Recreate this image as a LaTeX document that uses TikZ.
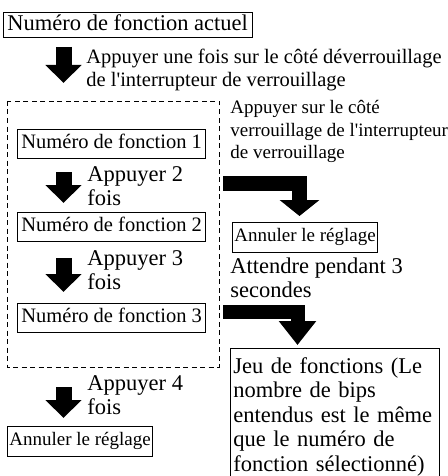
\documentclass[tikz,border=0pt]{standalone}
\usepackage{fontspec}
\setmainfont{Liberation Serif}
\usetikzlibrary{arrows.meta,positioning}
\newcommand\fbig{\fontsize{22.5}{24.5}\selectfont}
\newcommand\fmid{\fontsize{20.5}{23}\selectfont}
\newcommand\fsmall{\fontsize{19}{22.5}\selectfont}
\newcommand\apos{\textquotesingle{}}
\tikzset{
  every picture/.style={line width=0.8pt},
  sbox/.style={draw, anchor=north west, inner xsep=4pt},
  sbig/.style={sbox, font=\fbig, text height=16pt, text depth=5pt, inner ysep=2pt},
  sfunc/.style={sbox, font=\fmid, text height=15pt, text depth=5pt, inner ysep=4.5pt},
  scancel/.style={sbox, font=\fsmall, inner xsep=2pt, text height=14.5pt, text depth=5pt, inner ysep=5pt},
  slabel/.style={anchor=north west, inner sep=0pt, align=left},
  sgroup/.style={dash pattern=on 5pt off 3.5pt},
  sdown/.style={line width=16pt, -{Triangle[width=35pt,length=18pt]}},
  sbent/.style={line width=15pt, line join=miter, -{Triangle[width=39pt,length=16pt]}},
}

\begin{document}
\begin{tikzpicture}[x=1pt,y=-1pt]
  \useasboundingbox (0,0) rectangle (447,476);
  % left column
  \node[sbig] (cur) at (3,12) {Numéro de fonction actuel};
  \draw[sgroup] (7,101) rectangle (219,367);
  \node[sfunc] (f1) at (17,129) {Numéro de fonction 1};
  \node[sfunc] (f2) at (17,212) {Numéro de fonction 2};
  \node[sfunc] (f3) at (17,303) {Numéro de fonction 3};
  \node[scancel] (c4) at (7,426) {Annuler le réglage};
  % right column
  \node[scancel] (cR) at (232,222) {Annuler le réglage};
  \node[slabel, font=\fbig, text width=203pt, inner xsep=3pt, inner ysep=9pt] (set) at (230,348)
    {Jeu de fonctions (Le\\nombre de bips\\entendus est le même\\que le numéro de\\fonction sélectionné)};
  \coordinate (bot) at (0,478);
  \draw (set.north west) rectangle (set.north east |- bot);
  % arrows
  \coordinate (a1) at (63.5,47);  \coordinate (a1e) at (63.5,83);
  \coordinate (a2) at (63.5,172); \coordinate (a2e) at (63.5,203);
  \coordinate (a3) at (63.5,258); \coordinate (a3e) at (63.5,292);
  \coordinate (a4) at (63.5,387); \coordinate (a4e) at (63.5,418);
  \draw[sdown] (a1) -- (a1e);
  \draw[sdown] (a2) -- (a2e);
  \draw[sdown] (a3) -- (a3e);
  \draw[sdown] (a4) -- (a4e);
  \coordinate (b1) at (223,183.5);   \coordinate (b1e) at (299.5,216);
  \coordinate (b2) at (223,312);     \coordinate (b2e) at (297.5,345);
  \draw[sbent] (b1) -| (b1e);
  \draw[sbent, line width=14pt, -{Triangle[width=36pt,length=24pt]}] (b2) -| (b2e);
  % labels
  \node[slabel, font=\fmid] (l1) at (86,49)
    {Appuyer une fois sur le côté déverrouillage\\de l\apos interrupteur de verrouillage};
  \node[slabel, font=\fbig] (l2) at (87,166) {Appuyer 2\\fois};
  \node[slabel, font=\fbig] (l3) at (87,250) {Appuyer 3\\fois};
  \node[slabel, font=\fbig] (l4) at (87,375) {Appuyer 4\\fois};
  \node[slabel, font=\fsmall] (lR) at (230,100)
    {Appuyer sur le côté\\verrouillage de l\apos interrupteur\\de verrouillage};
  \node[slabel, font=\fbig] (lW) at (230,257) {Attendre pendant 3\\secondes};
\end{tikzpicture}
\end{document}
